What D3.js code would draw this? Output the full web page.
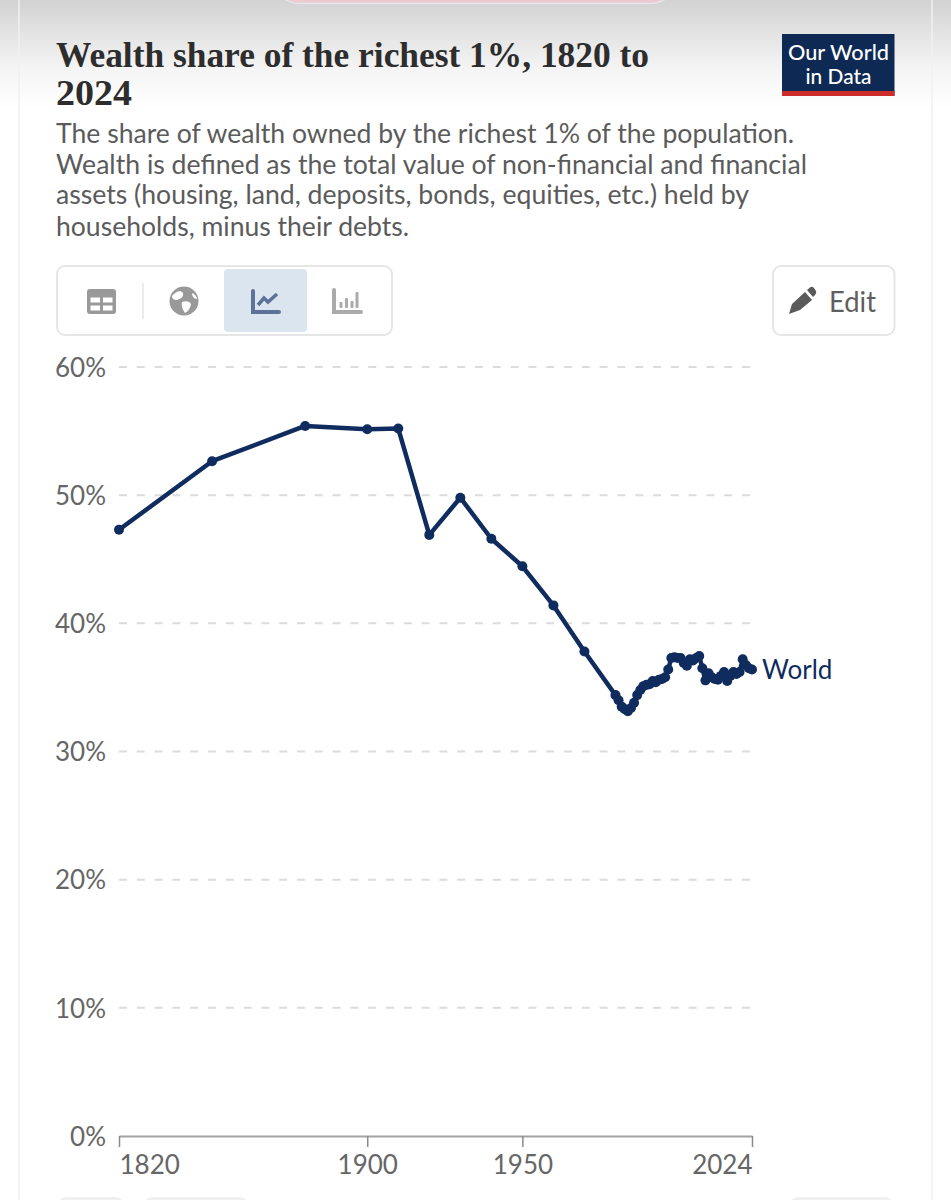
<!DOCTYPE html>
<html>
<head>
<meta charset="utf-8">
<script src="https://cdn.jsdelivr.net/npm/d3@7/dist/d3.min.js"></script>
<style>
  html, body { margin: 0; padding: 0; background: #fff; }
  svg { display: block; }
  text { font-family: Lato, "Noto Sans", sans-serif; }
</style>
</head>
<body>
<div id="chart"></div>
<script>
// Series: world wealth share of the top 1%, percent of total wealth
const sparseYears = [1820, 1850, 1880, 1900, 1910, 1920, 1930, 1940, 1950, 1960, 1970];
const sparseShares = [47.3, 52.65, 55.4, 55.15, 55.2, 46.9, 49.8, 46.6, 44.45, 41.4, 37.8];
const annualYears = d3.range(1980, 2025);
const annualShares = [
  34.4, 34.0, 33.5, 33.3, 33.15, 33.4, 33.8, 34.4, 34.8, 35.1,
  35.2, 35.25, 35.5, 35.4, 35.6, 35.65, 35.8, 36.4, 37.3, 37.35,
  37.3, 37.3, 36.9, 36.7, 37.2, 37.1, 37.3, 37.45, 36.5, 35.55,
  36.1, 35.8, 35.65, 35.6, 35.9, 36.2, 35.5, 35.9, 36.2, 36.05,
  36.2, 37.2, 36.75, 36.5, 36.4
];
const yTicks = [0, 10, 20, 30, 40, 50, 60];
const xTicks = [1820, 1900, 1950, 2024];
const seriesName = "World";

const titleLines = ["Wealth share of the richest 1%, 1820 to", "2024"];
const subtitleLines = [
  "The share of wealth owned by the richest 1% of the population.",
  "Wealth is defined as the total value of non-financial and financial",
  "assets (housing, land, deposits, bonds, equities, etc.) held by",
  "households, minus their debts."
];

const points = [
  ...sparseYears.map((year, i) => ({ year, share: sparseShares[i] })),
  ...annualYears.map((year, i) => ({ year, share: annualShares[i] }))
];

const W = 951, H = 1200;
const navy = "#102c5f";
const svg = d3.select("#chart").append("svg").attr("width", W).attr("height", H);
const defs = svg.append("defs");
const fade = defs.append("linearGradient").attr("id", "topFade").attr("x1", 0).attr("x2", 0).attr("y1", 0).attr("y2", 1);
[[0, "#d2d2d2"], [0.3, "#e3e3e3"], [0.65, "#f5f5f5"], [1, "#ffffff"]].forEach(([offset, color]) => {
  fade.append("stop").attr("offset", offset).attr("stop-color", color);
});

// Page chrome: the shadow falling from the top bar, card edges, controls peeking in below
const chrome = svg.append("g");
chrome.append("rect").attr("width", W).attr("height", 108).attr("fill", "url(#topFade)");
[19, 932].forEach(edge => {
  chrome.append("line").attr("x1", edge).attr("x2", edge).attr("y1", 0).attr("y2", H)
    .attr("stroke", "#f0f0f0").attr("stroke-width", 1.5);
});
chrome.append("path").attr("d", "M283,-2 C290,3 296,3.5 305,3.5 L645,3.5 C654,3.5 660,3 667,-2 Z")
  .attr("fill", "#efc9d0").attr("stroke", "#e4e8ee").attr("stroke-width", 1.5);
[[59, 64], [145, 102], [791, 101]].forEach(([x, w]) => {
  chrome.append("rect").attr("x", x).attr("y", 1197).attr("width", w).attr("height", 12).attr("rx", 7).attr("fill", "#f0f0f0");
});

// Header text, fitted to the measured line widths
const header = svg.append("g");
const titleWidths = [593, 76];
titleLines.forEach((line, i) => {
  header.append("text").text(line)
    .attr("x", 56).attr("y", 67 + i * 38)
    .attr("textLength", titleWidths[i]).attr("lengthAdjust", "spacingAndGlyphs")
    .attr("fill", "#2d2d2d").attr("font-size", 36).attr("font-weight", 700)
    .style("font-family", '"Liberation Serif", serif');
});
const subtitleWidths = [738, 751, 693, 353];
const subtitleBase = [143, 174, 204, 236];
subtitleLines.forEach((line, i) => {
  header.append("text").text(line)
    .attr("x", 56).attr("y", subtitleBase[i])
    .attr("textLength", subtitleWidths[i]).attr("lengthAdjust", "spacingAndGlyphs")
    .attr("fill", "#5b5b5b").attr("font-size", 27);
});

// Logo
const logo = svg.append("g");
logo.append("rect").attr("x", 782).attr("y", 34).attr("width", 112.5).attr("height", 62).attr("fill", "#0e2a54");
logo.append("rect").attr("x", 782).attr("y", 91).attr("width", 112.5).attr("height", 5).attr("fill", "#ce2b2b");
[["Our World", 60, 101], ["in Data", 84, 66]].forEach(([s, y, w]) => {
  logo.append("text").text(s).attr("x", 838.5 - w / 2).attr("y", y)
    .attr("textLength", w).attr("lengthAdjust", "spacingAndGlyphs")
    .attr("fill", "#fff").attr("font-size", 21).attr("font-weight", 500);
});

// Tab bar
const tabs = svg.append("g");
tabs.append("rect").attr("x", 57).attr("y", 266).attr("width", 335).attr("height", 69).attr("rx", 8)
  .attr("fill", "#fff").attr("stroke", "#e6e6e6").attr("stroke-width", 2);
tabs.append("rect").attr("x", 224).attr("y", 269).attr("width", 83).attr("height", 63).attr("rx", 4).attr("fill", "#dbe5f0");
tabs.append("line").attr("x1", 143).attr("x2", 143).attr("y1", 283).attr("y2", 319).attr("stroke", "#e4e4e4").attr("stroke-width", 1.5);

const grey = "#999";
tabs.append("rect").attr("x", 87).attr("y", 289).attr("width", 29).attr("height", 25).attr("rx", 3).attr("fill", grey);
[[90.5, 297.5], [103, 297.5], [90.5, 305.5], [103, 305.5]].forEach(([x, y]) => {
  tabs.append("rect").attr("x", x).attr("y", y).attr("width", 9.5).attr("height", 5).attr("fill", "#fff");
});
tabs.append("circle").attr("cx", 184).attr("cy", 301).attr("r", 14.5).attr("fill", grey);
tabs.append("path").attr("d", "M172,296 C176,291 181,290 183,293 C184,297 180,299 177,300 C174,300 172,299 172,296 Z M182,302 C187,300 191,302 191,305 C190,309 187,312 185,313 C183,310 181,306 182,302 Z M192,293 C195,294 197,297 197,299 C194,299 192,296 192,293 Z")
  .attr("fill", "#fff");
tabs.append("path").attr("d", "M253,291 V312 H279").attr("fill", "none").attr("stroke", "#5c7298").attr("stroke-width", 4).attr("stroke-linecap", "round");
tabs.append("path").attr("d", "M258,305 L264,298 L268,302 L277,294").attr("fill", "none").attr("stroke", "#5c7298").attr("stroke-width", 3.5);
tabs.append("path").attr("d", "M334,290 V312 H361").attr("fill", "none").attr("stroke", "#aaa").attr("stroke-width", 4).attr("stroke-linecap", "round");
[[341, 302], [346.5, 298], [352, 301], [357, 292]].forEach(([x, y]) => {
  tabs.append("rect").attr("x", x - 1.5).attr("y", y).attr("width", 3).attr("height", 308 - y).attr("rx", 1).attr("fill", "#aaa");
});

// Edit button
const edit = svg.append("g");
edit.append("rect").attr("x", 773).attr("y", 266).attr("width", 121.5).attr("height", 69).attr("rx", 8)
  .attr("fill", "#fff").attr("stroke", "#e6e6e6").attr("stroke-width", 2);
edit.append("path").attr("d", "M789,314 L792,304 L805,292 L812,300 L800,310 Z M807,290 L810,287.5 Q812,286 814,288 L816,291 Q817,293 815,295 L813,297 Z").attr("fill", "#5a5a5a");
edit.append("text").text("Edit").attr("x", 829).attr("y", 312)
  .attr("textLength", 47).attr("lengthAdjust", "spacingAndGlyphs")
  .attr("fill", "#5f5f5f").attr("font-size", 29);

// Chart
const x = d3.scaleLinear().domain([1820, 2024]).range([119, 752]);
const y = d3.scaleLinear().domain([0, 60]).range([1136, 367]);

const yAxis = svg.append("g").attr("transform", "translate(119,1)")
  .call(d3.axisLeft(y).tickValues(yTicks).tickFormat(d => d + "%").tickSize(0).tickPadding(13));
yAxis.select(".domain").remove();
yAxis.selectAll("text").attr("fill", "#666").attr("font-size", 26).style("font-family", "Lato");

svg.append("g").selectAll("line").data(yTicks.filter(d => d > 0)).join("line")
  .attr("x1", x(1820)).attr("x2", x(2024))
  .attr("y1", d => y(d)).attr("y2", d => y(d))
  .attr("stroke", "#dcdcdc").attr("stroke-width", 2).attr("stroke-dasharray", "8,9.8");

const xAxis = svg.append("g").attr("transform", `translate(0,${y(0)})`)
  .call(d3.axisBottom(x).tickValues(xTicks).tickFormat(d3.format("d")).tickSize(11).tickSizeOuter(0).tickPadding(9));
xAxis.select(".domain").attr("stroke", "#a3a3a3").attr("stroke-width", 2);
xAxis.selectAll(".tick line").attr("stroke", "#8a8a8a").attr("stroke-width", 1.5);
xAxis.selectAll("text").attr("fill", "#666").attr("font-size", 26).style("font-family", "Lato")
  .attr("text-anchor", d => d === 1820 ? "start" : d === 2024 ? "end" : "middle");

const line = d3.line().x(d => x(d.year)).y(d => y(d.share));
svg.append("path").datum(points).attr("d", line)
  .attr("fill", "none").attr("stroke", navy).attr("stroke-width", 4.5).attr("stroke-linejoin", "round");
svg.append("g").selectAll("circle").data(points).join("circle")
  .attr("cx", d => x(d.year)).attr("cy", d => y(d.share)).attr("r", 5).attr("fill", navy);

const last = points[points.length - 1];
svg.append("text").text(seriesName).attr("x", x(last.year) + 10).attr("y", y(last.share) + 10)
  .attr("fill", navy).attr("font-size", 26);
</script>
</body>
</html>
